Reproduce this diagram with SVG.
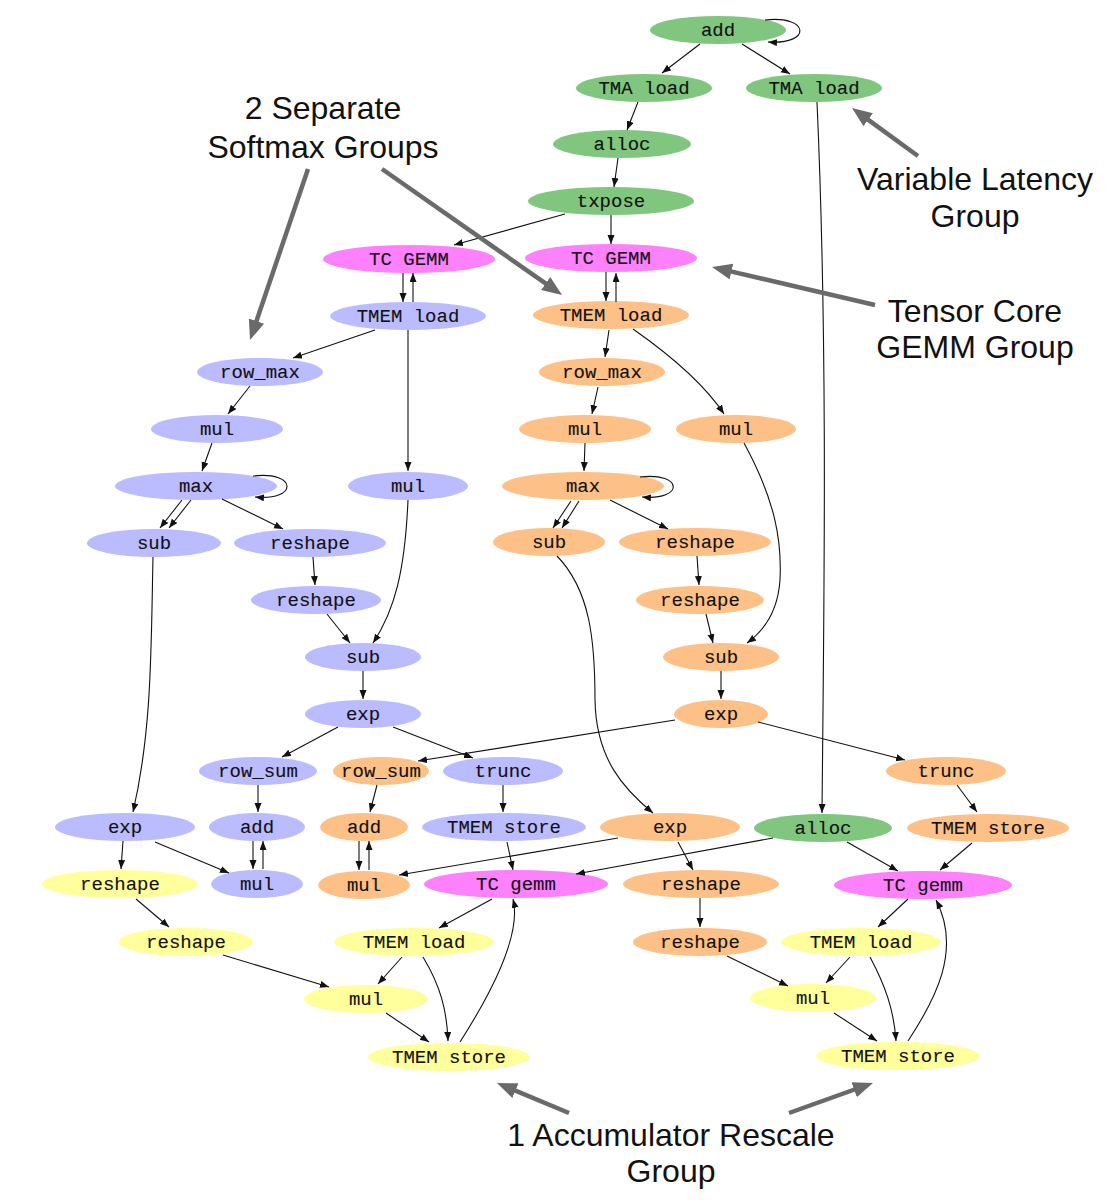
<svg xmlns="http://www.w3.org/2000/svg" width="1108" height="1200" viewBox="0 0 1108 1200">
<defs>
<style>
.g{fill:#80c67f}.m{fill:#fd80fd}.b{fill:#bbbbff}.o{fill:#fdc087}.y{fill:#ffff9c}
.n text{font-family:"Liberation Mono","Courier New",monospace;font-size:19px;fill:#111;stroke:#111;stroke-width:0.12;text-anchor:middle}
.e path{fill:none;stroke:#111;stroke-width:1.1;marker-end:url(#ah)}
.a line{stroke:#6a6a6a;stroke-width:4.5;marker-end:url(#gh)}
.t{font-family:"Liberation Sans",Arial,Helvetica,sans-serif;font-size:32px;fill:#111;text-anchor:middle}
</style>
<marker id="ah" markerUnits="userSpaceOnUse" markerWidth="10" markerHeight="8" refX="9" refY="3.5" orient="auto"><path d="M0,0 L9,3.5 L0,7 z" fill="#111"/></marker>
<marker id="gh" markerUnits="userSpaceOnUse" markerWidth="22" markerHeight="18" refX="2" refY="8" orient="auto"><path d="M0,0 L20,8 L0,16 z" fill="#6a6a6a"/></marker>
</defs>
<rect width="1108" height="1200" fill="#fff"/>

<g id="nodes" class="n">
<g id="n_add"><ellipse class="g" cx="718" cy="30" rx="68" ry="14"/><text x="718" y="36">add</text></g>
<g id="n_tma1"><ellipse class="g" cx="644" cy="88" rx="68" ry="14"/><text x="644" y="94">TMA load</text></g>
<g id="n_tma2"><ellipse class="g" cx="814" cy="88" rx="68" ry="14"/><text x="814" y="94">TMA load</text></g>
<g id="n_alloc1"><ellipse class="g" cx="622" cy="144" rx="69" ry="14"/><text x="622" y="150">alloc</text></g>
<g id="n_txpose"><ellipse class="g" cx="611" cy="201" rx="83" ry="14"/><text x="611" y="207">txpose</text></g>
<g id="n_gemmL"><ellipse class="m" cx="409" cy="259" rx="86" ry="14"/><text x="409" y="265">TC GEMM</text></g>
<g id="n_gemmR"><ellipse class="m" cx="611" cy="258" rx="86" ry="14"/><text x="611" y="264">TC GEMM</text></g>
<g id="n_tmemLB"><ellipse class="b" cx="408" cy="316" rx="78" ry="14"/><text x="408" y="322">TMEM load</text></g>
<g id="n_tmemLO"><ellipse class="o" cx="611" cy="315" rx="78" ry="14"/><text x="611" y="321">TMEM load</text></g>
<g id="n_rowmaxB"><ellipse class="b" cx="260" cy="372" rx="63" ry="14"/><text x="260" y="378">row_max</text></g>
<g id="n_rowmaxO"><ellipse class="o" cx="602" cy="372" rx="63" ry="14"/><text x="602" y="378">row_max</text></g>
<g id="n_mulB1"><ellipse class="b" cx="217" cy="429" rx="66" ry="14"/><text x="217" y="435">mul</text></g>
<g id="n_mulO1"><ellipse class="o" cx="585" cy="429" rx="66" ry="14"/><text x="585" y="435">mul</text></g>
<g id="n_mulO2"><ellipse class="o" cx="736" cy="429" rx="60" ry="14"/><text x="736" y="435">mul</text></g>
<g id="n_maxB"><ellipse class="b" cx="196" cy="486" rx="81" ry="14"/><text x="196" y="492">max</text></g>
<g id="n_mulB2"><ellipse class="b" cx="408" cy="486" rx="60" ry="14"/><text x="408" y="492">mul</text></g>
<g id="n_maxO"><ellipse class="o" cx="583" cy="486" rx="81" ry="14"/><text x="583" y="492">max</text></g>
<g id="n_subB1"><ellipse class="b" cx="154" cy="543" rx="67" ry="14"/><text x="154" y="549">sub</text></g>
<g id="n_reshB1"><ellipse class="b" cx="310" cy="543" rx="76" ry="14"/><text x="310" y="549">reshape</text></g>
<g id="n_subO1"><ellipse class="o" cx="549" cy="542" rx="56" ry="14"/><text x="549" y="548">sub</text></g>
<g id="n_reshO1"><ellipse class="o" cx="695" cy="542" rx="76" ry="14"/><text x="695" y="548">reshape</text></g>
<g id="n_reshB2"><ellipse class="b" cx="316" cy="600" rx="65" ry="14"/><text x="316" y="606">reshape</text></g>
<g id="n_reshO2"><ellipse class="o" cx="700" cy="600" rx="64" ry="14"/><text x="700" y="606">reshape</text></g>
<g id="n_subB2"><ellipse class="b" cx="363" cy="657" rx="58" ry="14"/><text x="363" y="663">sub</text></g>
<g id="n_subO2"><ellipse class="o" cx="721" cy="657" rx="58" ry="14"/><text x="721" y="663">sub</text></g>
<g id="n_expB1"><ellipse class="b" cx="363" cy="714" rx="58" ry="14"/><text x="363" y="720">exp</text></g>
<g id="n_expO1"><ellipse class="o" cx="721" cy="714" rx="47" ry="14"/><text x="721" y="720">exp</text></g>
<g id="n_rowsumB"><ellipse class="b" cx="258" cy="771" rx="59" ry="14"/><text x="258" y="777">row_sum</text></g>
<g id="n_rowsumO"><ellipse class="o" cx="381" cy="771" rx="48" ry="14"/><text x="381" y="777">row_sum</text></g>
<g id="n_truncB"><ellipse class="b" cx="503" cy="771" rx="60" ry="14"/><text x="503" y="777">trunc</text></g>
<g id="n_truncO"><ellipse class="o" cx="946" cy="771" rx="60" ry="14"/><text x="946" y="777">trunc</text></g>
<g id="n_expB2"><ellipse class="b" cx="125" cy="827" rx="70" ry="14"/><text x="125" y="833">exp</text></g>
<g id="n_addB"><ellipse class="b" cx="257" cy="827" rx="48" ry="14"/><text x="257" y="833">add</text></g>
<g id="n_addO"><ellipse class="o" cx="364" cy="827" rx="44" ry="14"/><text x="364" y="833">add</text></g>
<g id="n_tmemstB"><ellipse class="b" cx="504" cy="827" rx="82" ry="14"/><text x="504" y="833">TMEM store</text></g>
<g id="n_expO2"><ellipse class="o" cx="670" cy="827" rx="70" ry="14"/><text x="670" y="833">exp</text></g>
<g id="n_alloc2"><ellipse class="g" cx="823" cy="828" rx="69" ry="14"/><text x="823" y="834">alloc</text></g>
<g id="n_tmemstO"><ellipse class="o" cx="988" cy="828" rx="81" ry="14"/><text x="988" y="834">TMEM store</text></g>
<g id="n_reshY1"><ellipse class="y" cx="120" cy="884" rx="78" ry="14"/><text x="120" y="890">reshape</text></g>
<g id="n_mulB3"><ellipse class="b" cx="257" cy="884" rx="46" ry="14"/><text x="257" y="890">mul</text></g>
<g id="n_mulO3"><ellipse class="o" cx="364" cy="885" rx="46" ry="14"/><text x="364" y="891">mul</text></g>
<g id="n_gemmBL"><ellipse class="m" cx="516" cy="884" rx="92" ry="14"/><text x="516" y="890">TC gemm</text></g>
<g id="n_reshO3"><ellipse class="o" cx="701" cy="884" rx="78" ry="14"/><text x="701" y="890">reshape</text></g>
<g id="n_gemmBR"><ellipse class="m" cx="923" cy="885" rx="89" ry="14"/><text x="923" y="891">TC gemm</text></g>
<g id="n_reshY2"><ellipse class="y" cx="186" cy="942" rx="67" ry="14"/><text x="186" y="948">reshape</text></g>
<g id="n_tmemldY1"><ellipse class="y" cx="414" cy="942" rx="80" ry="14"/><text x="414" y="948">TMEM load</text></g>
<g id="n_reshO4"><ellipse class="o" cx="700" cy="942" rx="67" ry="14"/><text x="700" y="948">reshape</text></g>
<g id="n_tmemldY2"><ellipse class="y" cx="861" cy="942" rx="80" ry="14"/><text x="861" y="948">TMEM load</text></g>
<g id="n_mulY1"><ellipse class="y" cx="366" cy="999" rx="62" ry="14"/><text x="366" y="1005">mul</text></g>
<g id="n_mulY2"><ellipse class="y" cx="813" cy="998" rx="63" ry="14"/><text x="813" y="1004">mul</text></g>
<g id="n_tmemstY1"><ellipse class="y" cx="449" cy="1057" rx="81" ry="14"/><text x="449" y="1063">TMEM store</text></g>
<g id="n_tmemstY2"><ellipse class="y" cx="898" cy="1056" rx="82" ry="14"/><text x="898" y="1062">TMEM store</text></g>
</g>

<g id="connectors" class="e">
<path d="M765,20 C810,15 812,45 768,42"/>
<path d="M700,44 L662,73"/>
<path d="M742,44 L790,74"/>
<path d="M638,102 L627,130"/>
<path d="M618,158 L614,187"/>
<path d="M611,215 L611,244"/>
<path d="M565,214 L454,245"/>
<path d="M606,272 L606,301"/>
<path d="M616,302 L616,273"/>
<path d="M403,273 L403,302"/>
<path d="M413,302 L413,273"/>
<path d="M817,102 C828,350 824,600 822,813"/>
<path d="M375,330 L293,358"/>
<path d="M408,330 L408,471"/>
<path d="M250,386 L228,414"/>
<path d="M212,443 L202,471"/>
<path d="M253,476 C298,471 298,501 255,497"/>
<path d="M182,500 L160,528"/>
<path d="M191,500 L169,528"/>
<path d="M222,499 L283,529"/>
<path d="M153,557 C151,650 152,730 133,812"/>
<path d="M313,557 L315,585"/>
<path d="M327,614 L350,643"/>
<path d="M408,500 C405,570 395,610 373,643"/>
<path d="M363,671 L363,699"/>
<path d="M338,727 L282,757"/>
<path d="M393,727 L473,758"/>
<path d="M675,720 L418,761"/>
<path d="M758,722 L905,760"/>
<path d="M258,785 L258,812"/>
<path d="M377,785 L370,812"/>
<path d="M503,785 L503,812"/>
<path d="M957,785 L977,812"/>
<path d="M253,841 L253,869"/>
<path d="M263,869 L263,841"/>
<path d="M359,841 L359,870"/>
<path d="M369,870 L369,841"/>
<path d="M123,841 L121,869"/>
<path d="M155,842 L229,873"/>
<path d="M618,838 L399,875"/>
<path d="M507,842 L513,870"/>
<path d="M678,842 L693,870"/>
<path d="M773,838 L576,874"/>
<path d="M847,842 L898,871"/>
<path d="M972,843 L940,870"/>
<path d="M136,899 L169,927"/>
<path d="M700,898 L700,927"/>
<path d="M492,899 L439,928"/>
<path d="M908,899 L878,927"/>
<path d="M223,955 L329,987"/>
<path d="M727,956 L788,986"/>
<path d="M402,957 L378,984"/>
<path d="M423,957 C440,985 447,1010 448,1041"/>
<path d="M386,1013 L429,1042"/>
<path d="M460,1042 C490,995 522,935 513,899"/>
<path d="M850,957 L826,983"/>
<path d="M870,957 C885,985 894,1010 896,1041"/>
<path d="M834,1013 L877,1041"/>
<path d="M908,1041 C935,1000 962,950 936,900"/>
<path d="M609,330 L605,357"/>
<path d="M633,329 C670,355 705,385 724,414"/>
<path d="M598,387 L592,414"/>
<path d="M585,443 L584,471"/>
<path d="M640,477 C684,472 684,501 642,497"/>
<path d="M571,501 L553,528"/>
<path d="M579,501 L562,528"/>
<path d="M610,500 L668,529"/>
<path d="M744,443 C775,500 782,540 780,580 C778,610 765,630 747,643"/>
<path d="M697,556 L699,585"/>
<path d="M706,614 L713,643"/>
<path d="M721,671 L721,699"/>
<path d="M557,556 C590,590 595,640 595,700 C596,760 625,790 653,813"/>
</g>

<g id="annotations">
<text class="t" x="323" y="119">2 Separate</text>
<text class="t" x="323" y="158">Softmax Groups</text>
<text class="t" x="975" y="190">Variable Latency</text>
<text class="t" x="975" y="227">Group</text>
<text class="t" x="975" y="322">Tensor Core</text>
<text class="t" x="975" y="358">GEMM Group</text>
<text class="t" x="671" y="1146">1 Accumulator Rescale</text>
<text class="t" x="671" y="1182">Group</text>
<g class="a">
<line x1="308" y1="169" x2="255.8" y2="323"/>
<line x1="382" y1="169" x2="547.3" y2="284.7"/>
<line x1="918" y1="156" x2="866.6" y2="118.6"/>
<line x1="875" y1="305" x2="729.5" y2="271.1"/>
<line x1="569" y1="1113" x2="513.6" y2="1089.9"/>
<line x1="789" y1="1113" x2="856" y2="1089"/>
</g>
</g>
</svg>
